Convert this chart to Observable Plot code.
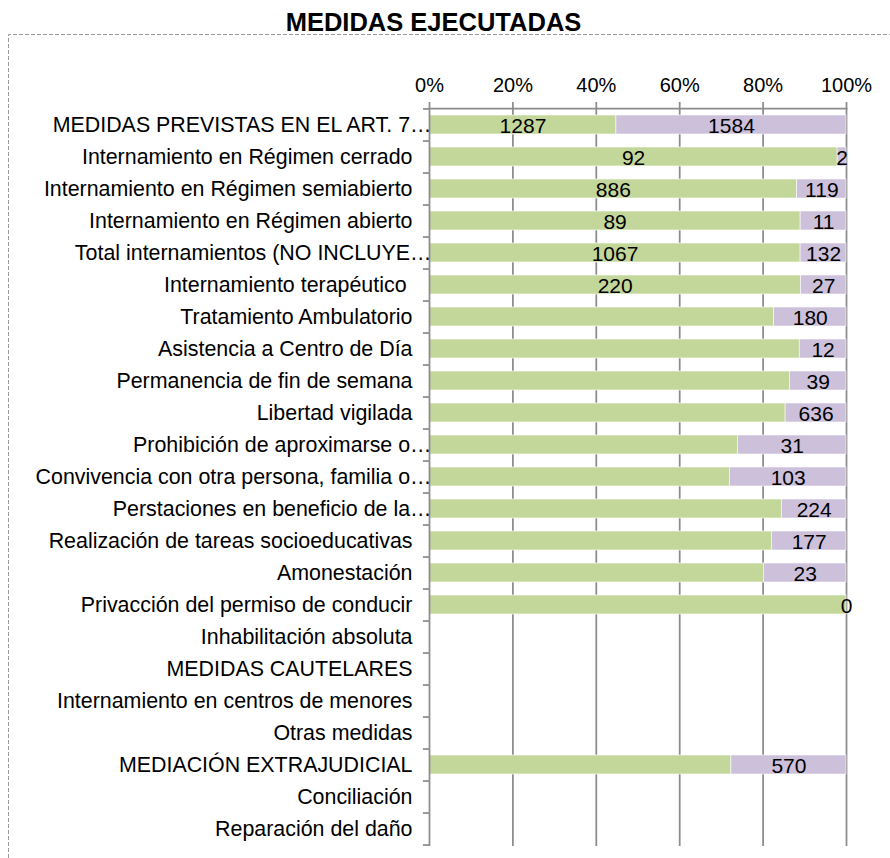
<!DOCTYPE html>
<html>
<head>
<meta charset="utf-8">
<script src="https://cdn.jsdelivr.net/npm/d3@7"></script>
<script src="https://cdn.jsdelivr.net/npm/@observablehq/plot@0.6"></script>
<style>
  body { margin: 0; background: #fff; }
  #wrap { position: relative; width: 890px; height: 858px; overflow: hidden; font-family: "Liberation Sans", Arial, sans-serif; }
  #wrap svg { position: absolute; left: 0; top: 0; }
  #border { position: absolute; left: 0; top: 0; z-index: 2; pointer-events: none; }
  #title { position: absolute; left: 0; top: 10px; width: 867px; text-align: center; font-weight: bold; font-size: 25.5px; line-height: 1; color: #000; z-index: 3; }
</style>
</head>
<body>
<div id="wrap">
  <div id="title">MEDIDAS EJECUTADAS</div>
  <svg id="border" width="890" height="858">
    <path d="M8.5,858 V34.5 H890" fill="none" stroke="#9a9a9a" stroke-width="1" stroke-dasharray="4,2"/>
  </svg>
</div>
<script>
const categories = [
  "MEDIDAS PREVISTAS EN EL ART. 7…",
  "Internamiento en Régimen cerrado",
  "Internamiento en Régimen semiabierto",
  "Internamiento en Régimen abierto",
  "Total internamientos (NO INCLUYE…",
  "Internamiento terapéutico ",
  "Tratamiento Ambulatorio",
  "Asistencia a Centro de Día",
  "Permanencia de fin de semana",
  "Libertad vigilada",
  "Prohibición de aproximarse o…",
  "Convivencia con otra persona, familia o…",
  "Perstaciones en beneficio de la…",
  "Realización de tareas socioeducativas",
  "Amonestación",
  "Privacción del permiso de conducir",
  "Inhabilitación absoluta",
  "MEDIDAS CAUTELARES",
  "Internamiento en centros de menores",
  "Otras medidas",
  "MEDIACIÓN EXTRAJUDICIAL",
  "Conciliación",
  "Reparación del daño"
];
const series = ["Serie 1", "Serie 2"];
// green series (values estimated from bar lengths where no label is shown)
const greenValues = [1287, 92, 886, 89, 1067, 220, 855, 95, 248, 3720, 88, 265, 1221, 812, 93, 12, null, null, null, null, 1495, null, null];
const greenLabels = [1287, 92, 886, 89, 1067, 220, null, null, null, null, null, null, null, null, null, null, null, null, null, null, null, null, null];
// purple series
const purpleValues = [1584, 2, 119, 11, 132, 27, 180, 12, 39, 636, 31, 103, 224, 177, 23, 0, null, null, null, null, 570, null, null];
const purpleLabels = purpleValues;
const xTicks = [0, 0.2, 0.4, 0.6, 0.8, 1];

const rows = [];
categories.forEach((c, i) => {
  if (greenValues[i] != null) rows.push({cat: c, series: series[0], value: greenValues[i], label: greenLabels[i]});
  if (purpleValues[i] != null) rows.push({cat: c, series: series[1], value: purpleValues[i], label: purpleLabels[i]});
});

const plotTop = 108, plotBottom = 846, plotLeft = 429, plotRight = 846;
const step = (plotBottom - plotTop) / categories.length;
const axisColor = "#8c8c8c";
const font = "Liberation Sans, Arial, sans-serif";

const stackOpts = {offset: "normalize", x: "value", y: "cat", z: "series"};

const chart = Plot.plot({
  width: 890,
  height: 858,
  marginLeft: plotLeft,
  marginRight: 890 - plotRight,
  marginTop: plotTop,
  marginBottom: 858 - plotBottom,
  style: {background: "transparent", fontFamily: font, color: "#000", overflow: "visible"},
  x: {domain: [0, 1], axis: null},
  y: {domain: categories, paddingInner: 0.4, paddingOuter: 0.2, axis: null},
  color: {domain: series, range: ["#C4D79B", "#CCC0DA"]},
  marks: [
    Plot.gridX({ticks: xTicks.slice(1), stroke: axisColor, strokeOpacity: 1, strokeWidth: 1.75}),
    Plot.barX(rows, Plot.stackX({...stackOpts, fill: "series", stroke: "white", strokeWidth: 0.6})),
    Plot.ruleX([0], {stroke: axisColor, strokeWidth: 1.75}),
    Plot.frame({anchor: "top", stroke: axisColor, strokeWidth: 1.75}),
    Plot.axisX({anchor: "top", ticks: xTicks, tickFormat: d3.format(".0%"), tickSize: 7, tickPadding: 9.5,
      fontSize: 20, stroke: axisColor, strokeWidth: 1.75, strokeOpacity: 1, label: null}),
    // category separator ticks on the left axis
    Plot.axisY({ticks: categories, tickSize: 6, tickFormat: () => "", dy: step / 2,
      stroke: axisColor, strokeWidth: 1.75, strokeOpacity: 1, label: null}),
    Plot.axisY({ticks: [categories[0]], tickSize: 6, tickFormat: () => "", dy: -step / 2,
      stroke: axisColor, strokeWidth: 1.75, strokeOpacity: 1, label: null}),
    // category labels
    Plot.text(categories.filter(d => !d.endsWith("…")), {y: d => d, text: d => d, frameAnchor: "left",
      textAnchor: "end", dx: -17, fontSize: 21.4, lineAnchor: "middle", fill: "#000"}),
    Plot.text(categories.filter(d => d.endsWith("…")), {y: d => d, text: d => d, frameAnchor: "left",
      textAnchor: "end", dx: 2, fontSize: 21.4, lineAnchor: "middle", fill: "#000"}),
    // data labels
    Plot.text(rows, Plot.stackX({...stackOpts, text: d => d.label == null ? null : String(d.label),
      fontSize: 21, dy: 1.5, fill: "#000", lineAnchor: "middle"}))
  ]
});
document.getElementById("wrap").appendChild(chart);
</script>
</body>
</html>
